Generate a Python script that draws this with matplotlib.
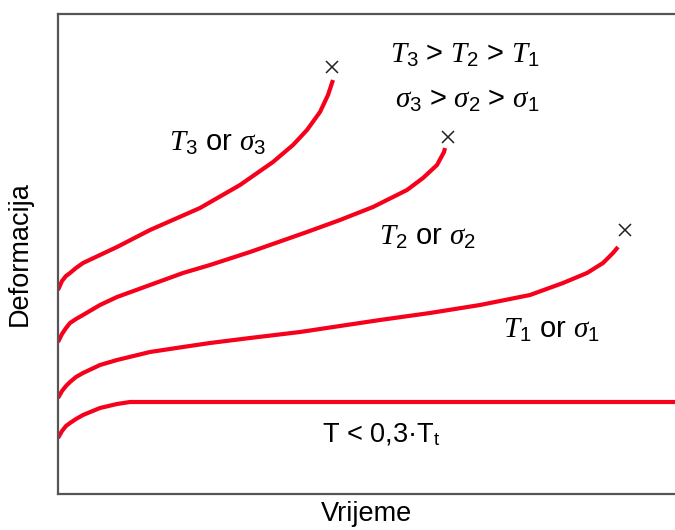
import matplotlib
matplotlib.use("Agg")
import matplotlib.pyplot as plt

plt.rcParams['font.family'] = ['Liberation Sans', 'DejaVu Sans']
plt.rcParams['mathtext.fontset'] = 'custom'
plt.rcParams['mathtext.it'] = 'Liberation Serif:italic'
plt.rcParams['mathtext.rm'] = 'Liberation Sans'
plt.rcParams['mathtext.sf'] = 'Liberation Sans'

# Time (arbitrary units) and deformation (arbitrary units)
t0 = [0, 4, 8, 12, 18, 25, 42, 59, 72, 617]
e0 = [56, 63, 68, 71, 75, 79, 86, 90, 92, 92]

t1 = [0, 4, 8, 12, 18, 25, 42, 59, 92, 125, 152, 192, 242, 282, 322, 372, 422, 472, 505, 529, 545, 555, 560]
e1 = [96, 103, 108, 112, 117, 121, 129, 134, 142, 147, 151, 156, 162, 168, 174, 181, 189, 199, 211, 221, 231, 241, 247]

t2 = [0, 4, 8, 12, 18, 25, 42, 59, 92, 125, 152, 192, 249, 282, 315, 349, 365, 379, 386, 387]
e2 = [152, 160, 166, 171, 175, 179, 189, 197, 209, 221, 229, 242, 262, 274, 287, 304, 316, 329, 342, 346]

t3 = [0, 4, 8, 12, 18, 25, 42, 59, 92, 142, 182, 215, 235, 249, 262, 270, 275]
e3 = [204, 213, 218, 221, 226, 231, 239, 247, 264, 286, 309, 332, 349, 364, 382, 399, 414]

rupture_t = [567, 390, 274]
rupture_e = [264, 357, 427]

fig = plt.figure(figsize=(6.75, 5.3), dpi=100)
ax = fig.add_axes([58/675, 36/530, 1 - 58/675, 480/530])
ax.set_xlim(0, 617)
ax.set_ylim(0, 480)

red = '#f7001b'
for t, e in [(t0, e0), (t1, e1), (t2, e2), (t3, e3)]:
    ax.plot(t, e, color=red, lw=3.0, solid_capstyle='butt', solid_joinstyle='round')

ax.plot(rupture_t, rupture_e, linestyle='none', marker='x', color='#222222', ms=8, mew=1.1)

ax.set_xticks([])
ax.set_yticks([])
for s in ['left', 'bottom', 'top']:
    ax.spines[s].set_color('#555555')
    ax.spines[s].set_linewidth(1.6)
ax.spines['right'].set_visible(False)

ax.set_xlabel('Vrijeme', fontsize=19.5, labelpad=5)
ax.set_ylabel('Deformacija', fontsize=19.5, labelpad=18)

fs = 21
ax.text(407, 439, r'$T_3\,>\,T_2\,>\,T_1$', fontsize=fs, ha='center', va='center')
ax.text(409, 394, r'$\sigma_3\,>\,\sigma_2\,>\,\sigma_1$', fontsize=fs, ha='center', va='center')
ax.text(160, 351, r'$T_3$ or $\sigma_3$', fontsize=fs, ha='center', va='center')
ax.text(369, 257, r'$T_2$ or $\sigma_2$', fontsize=fs, ha='center', va='center')
ax.text(493, 164, r'$T_1$ or $\sigma_1$', fontsize=fs, ha='center', va='center')
ax.text(323, 59, r'T < 0,3·T$_\mathrm{t}$', fontsize=19.5, ha='center', va='center')

fig.savefig('out.png', dpi=100)
